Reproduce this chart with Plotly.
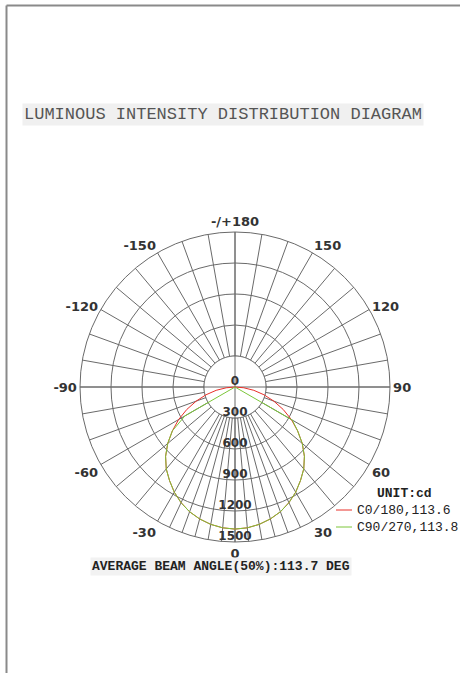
import plotly.graph_objects as go
import numpy as np

# ---- data ----
gamma = [-90, -85, -80, -75, -70, -65, -60, -55, -50, -45, -40, -35, -30, -25, -20, -15, -10, -5,
         0, 5, 10, 15, 20, 25, 30, 35, 40, 45, 50, 55, 60, 65, 70, 75, 80, 85, 90]
c0_180 = [0, 85, 185, 290, 400, 515, 630, 740, 850, 950, 1035, 1105, 1175, 1235, 1285, 1322, 1350, 1368,
          1375, 1368, 1350, 1322, 1285, 1235, 1175, 1105, 1035, 950, 850, 740, 630, 515, 400, 290, 185, 85, 0]
c90_270 = [0, 0, 0, 0, 0, 0, 560, 740, 850, 950, 1035, 1105, 1175, 1235, 1285, 1322, 1350, 1368,
           1375, 1368, 1350, 1322, 1285, 1235, 1175, 1105, 1035, 950, 850, 740, 640, 0, 0, 0, 0, 0, 0]
names = ["C0/180,113.6", "C90/270,113.8"]
colors = ["#e8302a", "#7cc63a"]

rings = [300, 600, 900, 1200, 1500]
ring_labels = [0, 300, 600, 900, 1200, 1500]
label_angles = [0, 30, 60, 90, 120, 150, 180, 210, 240, 270, 300, 330]
label_texts = ["0", "30", "60", "90", "120", "150", "-/+180", "-150", "-120", "-90", "-60", "-30"]
spokes = [0, 5, 10, 15, 20, 25, 30, 40, 50, 60, 70, 80, 90, 100, 110, 120, 130, 140, 150, 160, 170,
          180, 190, 200, 210, 220, 230, 240, 250, 260, 270, 280, 290, 300, 310, 320, 330, 335, 340,
          345, 350, 355]

title_text = "LUMINOUS INTENSITY DISTRIBUTION DIAGRAM"
beam_text = "AVERAGE BEAM ANGLE(50%):113.7 DEG"
unit_text = "UNIT:cd"

GRID = "#6a6a6a"
W, H = 460, 673

ticktext = [label_texts[label_angles.index(a)] if a in label_angles else "" for a in spokes]

fig = go.Figure()

# white inner disk hiding the spokes inside the first ring
th = np.linspace(0, 360, 181)
fig.add_trace(go.Scatterpolar(r=[rings[0]] * len(th), theta=th, mode="lines", fill="toself",
                              fillcolor="white", line=dict(color=GRID, width=1),
                              showlegend=False, hoverinfo="skip"))
# axis lines through the centre
fig.add_trace(go.Scatterpolar(r=[rings[-1], 0, rings[-1]], theta=[0, 0, 180], mode="lines",
                              line=dict(color=GRID, width=1), showlegend=False, hoverinfo="skip"))
fig.add_trace(go.Scatterpolar(r=[rings[-1], 0, rings[-1]], theta=[90, 90, 270], mode="lines",
                              line=dict(color=GRID, width=1), showlegend=False, hoverinfo="skip"))

# data curves
for vals, nm, col in zip([c0_180, c90_270], names, colors):
    fig.add_trace(go.Scatterpolar(r=vals, theta=gamma, mode="lines", name=nm,
                                  line=dict(color=col, width=1), showlegend=False))

# radial labels (placed just inside each ring)
lab_r = [abs(v - 50) for v in ring_labels]
lab_t = [180 if v == 0 else 0 for v in ring_labels]
fig.add_trace(go.Scatterpolar(r=lab_r, theta=lab_t, mode="text",
                              text=[str(v) for v in ring_labels], textposition="middle center",
                              textfont=dict(family="DejaVu Sans", size=12, color="#333", weight="bold"),
                              showlegend=False, hoverinfo="skip"))

# manual legend
ann = [
    dict(text=title_text, x=222.5 / W, y=1 - 114 / H, xref="paper", yref="paper",
         xanchor="center", yanchor="middle",
         showarrow=False, font=dict(family="Liberation Mono", size=17, color="#555"),
         bgcolor="#f0f0f0"),
    dict(text=beam_text, x=220.5 / W, y=1 - 566 / H, xref="paper", yref="paper",
         xanchor="center", yanchor="middle",
         showarrow=False, font=dict(family="Liberation Mono", size=13, color="#222", weight="bold"),
         bgcolor="#f2f2f2"),
    dict(text=unit_text, x=404.5 / W, y=1 - 494 / H, xref="paper", yref="paper",
         xanchor="center", yanchor="middle", showarrow=False,
         font=dict(family="Liberation Mono", size=13, color="#222", weight="bold")),
]
shapes = [
    dict(type="line", xref="paper", yref="paper", x0=6.5 / W, x1=1, y0=1 - 5.5 / H,
         y1=1 - 5.5 / H, line=dict(color="#8a8a8a", width=2)),
    dict(type="line", xref="paper", yref="paper", x0=6.5 / W, x1=6.5 / W, y0=0,
         y1=1 - 5.5 / H, line=dict(color="#8a8a8a", width=2)),
]
for i, (nm, col) in enumerate(zip(names, colors)):
    yy = 510 + 17 * i
    ann.append(dict(text=nm, x=355 / W, y=1 - yy / H, xref="paper", yref="paper",
                    xanchor="left", yanchor="middle", showarrow=False,
                    font=dict(family="Liberation Mono", size=13, color="#222")))
    shapes.append(dict(type="line", xref="paper", yref="paper", x0=336 / W, x1=352 / W,
                       y0=1 - yy / H, y1=1 - yy / H, line=dict(color=col, width=1)))

fig.update_layout(
    width=W, height=H,
    margin=dict(l=0, r=0, t=0, b=0),
    paper_bgcolor="white",
    showlegend=False,
    polar=dict(
        domain=dict(x=[80 / W, 390 / W], y=[131 / H, 441 / H]),
        bgcolor="white",
        radialaxis=dict(range=[0, rings[-1]], tickvals=rings, showticklabels=False,
                        showline=False, ticks="", gridcolor=GRID, gridwidth=1),
        angularaxis=dict(rotation=-90, direction="counterclockwise",
                         tickmode="array", tickvals=spokes, ticktext=ticktext,
                         ticks="", showline=True, linecolor=GRID, linewidth=1,
                         gridcolor=GRID, gridwidth=1,
                         tickfont=dict(family="DejaVu Sans", size=13, color="#333", weight="bold")),
    ),
    annotations=ann,
    shapes=shapes,
)

fig.write_html("out.html", config={"displayModeBar": False},
               post_script="document.body.style.margin='0';document.body.style.overflow='hidden';")
